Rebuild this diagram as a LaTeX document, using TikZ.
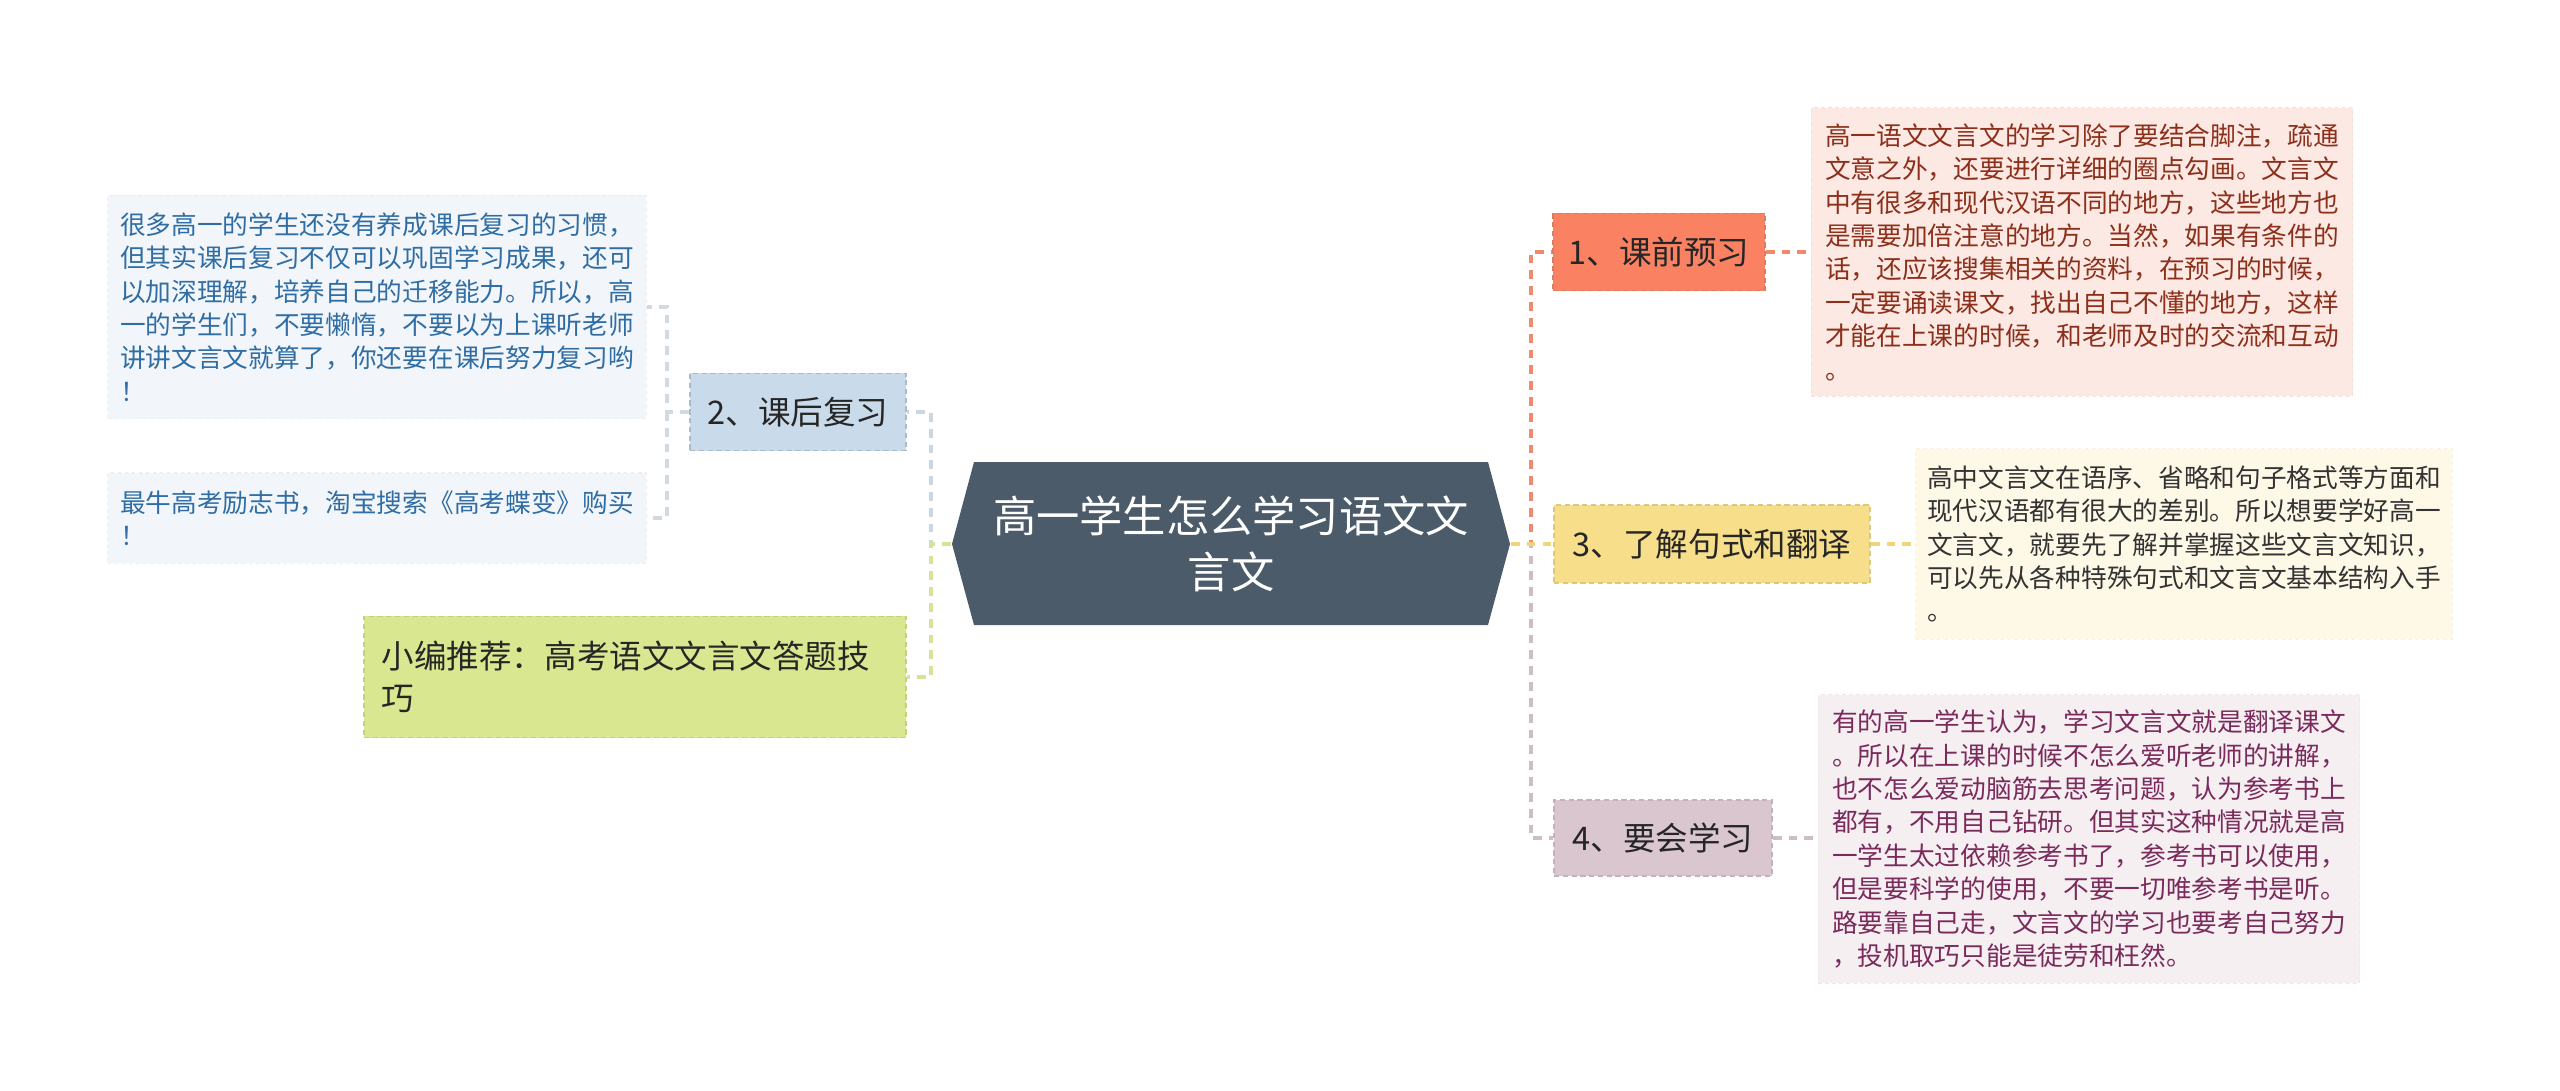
\documentclass[tikz,border=0pt]{standalone}
\usepackage{fontspec}
\newfontfamily\cjk{Noto Sans CJK SC}
\usepackage{tikz}
\definecolor{rootfill}{HTML}{4B5B69}
\definecolor{fillA}{HTML}{FA8263}
\definecolor{fillB}{HTML}{C9DBEB}
\definecolor{fillC}{HTML}{F7DE8B}
\definecolor{fillD}{HTML}{D9C6CF}
\definecolor{fillE}{HTML}{D9E790}
\definecolor{lineA}{HTML}{EF8B6C}
\definecolor{lineB}{HTML}{C8D7E4}
\definecolor{lineC}{HTML}{F2D57A}
\definecolor{lineD}{HTML}{CDBEC6}
\definecolor{lineE}{HTML}{D5E29A}
\definecolor{lineF}{HTML}{D2D9DF}
\definecolor{leafA}{HTML}{FDE9E3}
\definecolor{leafB}{HTML}{F2F6FA}
\definecolor{leafC}{HTML}{FEF8E7}
\definecolor{leafD}{HTML}{F6EFF2}
\definecolor{textA}{HTML}{8C2F1B}
\definecolor{textB}{HTML}{2F6DA4}
\definecolor{textC}{HTML}{333333}
\definecolor{textD}{HTML}{7A2B5B}

\begin{document}
\begin{tikzpicture}[x=0.01cm,y=-0.01cm,
		leaf/.style={align=left,inner sep=0pt,font=\cjk\fontsize{7.3}{9.5}\selectfont,line width=0.3pt,dash pattern=on 1pt off 1pt},
		branch/.style={align=left,inner sep=0pt,font=\cjk\fontsize{9.25}{12}\selectfont,text=black!85,line width=0.4pt,dash pattern=on 1.5pt off 1pt},
		link/.style={line width=0.9pt,dash pattern=on 2.5pt off 2pt}]
	\useasboundingbox[fill=white] (0,0) rectangle (2560,1091);
	\fill[rootfill] (952,544) -- (974,462) -- (1488,462) -- (1510,544) -- (1488,625) -- (974,625) -- cycle;
	\node[font=\cjk\fontsize{12.3}{15.8}\selectfont,text=white,align=center,minimum width=5.58cm,minimum height=1.63cm] (root) at (1231,544) {高一学生怎么学习语文文\\言文};
	\node[branch,fill=fillA,draw=lineA!90!black,minimum width=2.12cm,minimum height=0.77cm] (b1) at (1659,252) {1、课前预习};
	\node[branch,fill=fillB,draw=fillB!85!black,minimum width=2.16cm,minimum height=0.77cm] (b2) at (798,412) {2、课后复习};
	\node[branch,fill=fillC,draw=fillC!90!black,minimum width=3.16cm,minimum height=0.78cm] (b3) at (1712,544) {3、了解句式和翻译};
	\node[branch,fill=fillD,draw=fillD!90!black,minimum width=2.18cm,minimum height=0.76cm] (b4) at (1663,838) {4、要会学习};
	\node[branch,fill=fillE,draw=fillE!90!black,text width=5.06cm,inner xsep=0.18cm,minimum height=1.21cm] (b5) at (635,677) {小编推荐：高考语文文言文答题技\\巧};
	\node[leaf,fill=leafA,draw=leafA!96!black,text=textA,minimum width=5.41cm,minimum height=2.88cm] (t1) at (2082,252) {高一语文文言文的学习除了要结合脚注，疏通\\文意之外，还要进行详细的圈点勾画。文言文\\中有很多和现代汉语不同的地方，这些地方也\\是需要加倍注意的地方。当然，如果有条件的\\话，还应该搜集相关的资料，在预习的时候，\\一定要诵读课文，找出自己不懂的地方，这样\\才能在上课的时候，和老师及时的交流和互动\\。};
	\node[leaf,fill=leafB,draw=leafB!97!black,text=textB,minimum width=5.38cm,minimum height=2.23cm] (t2) at (377,307) {很多高一的学生还没有养成课后复习的习惯，\\但其实课后复习不仅可以巩固学习成果，还可\\以加深理解，培养自己的迁移能力。所以，高\\一的学生们，不要懒惰，不要以为上课听老师\\讲讲文言文就算了，你还要在课后努力复习哟\\！};
	\node[leaf,fill=leafB,draw=leafB!97!black,text=textB,minimum width=5.38cm,minimum height=0.9cm] (t5) at (377,518) {最牛高考励志书，淘宝搜索《高考蝶变》购买\\！};
	\node[leaf,fill=leafC,draw=leafC!97!black,text=textC,minimum width=5.36cm,minimum height=1.9cm] (t3) at (2184,544) {高中文言文在语序、省略和句子格式等方面和\\现代汉语都有很大的差别。所以想要学好高一\\文言文，就要先了解并掌握这些文言文知识，\\可以先从各种特殊句式和文言文基本结构入手\\。};
	\node[leaf,fill=leafD,draw=leafD!97!black,text=textD,minimum width=5.41cm,minimum height=2.88cm] (t4) at (2089,839) {有的高一学生认为，学习文言文就是翻译课文\\。所以在上课的时候不怎么爱听老师的讲解，\\也不怎么爱动脑筋去思考问题，认为参考书上\\都有，不用自己钻研。但其实这种情况就是高\\一学生太过依赖参考书了，参考书可以使用，\\但是要科学的使用，不要一切唯参考书是听。\\路要靠自己走，文言文的学习也要考自己努力\\，投机取巧只能是徒劳和枉然。};
	\coordinate (rj) at (1531,544);
	\coordinate (lj) at (931,544);
	\coordinate (mj) at (667,412);
	\draw[link,lineA] (root.east) -- (rj) |- (b1);
	\draw[link,lineD] (root.east) -- (rj) |- (b4);
	\draw[link,lineC] (root.east) -- (rj) -- (b3);
	\draw[link,lineB] (root.west) -- (lj) |- (b2);
	\draw[link,lineE] (root.west) -- (lj) |- (b5);
	\draw[link,lineF] (b2.west) -- (mj) |- (t2);
	\draw[link,lineF] (mj) |- (t5);
	\path[link]
		(b1.east) edge[lineA] (b1.east -| t1.west)
		(b3.east) edge[lineC] (b3.east -| t3.west)
		(b4.east) edge[lineD] (b4.east -| t4.west);
\end{tikzpicture}
\end{document}
